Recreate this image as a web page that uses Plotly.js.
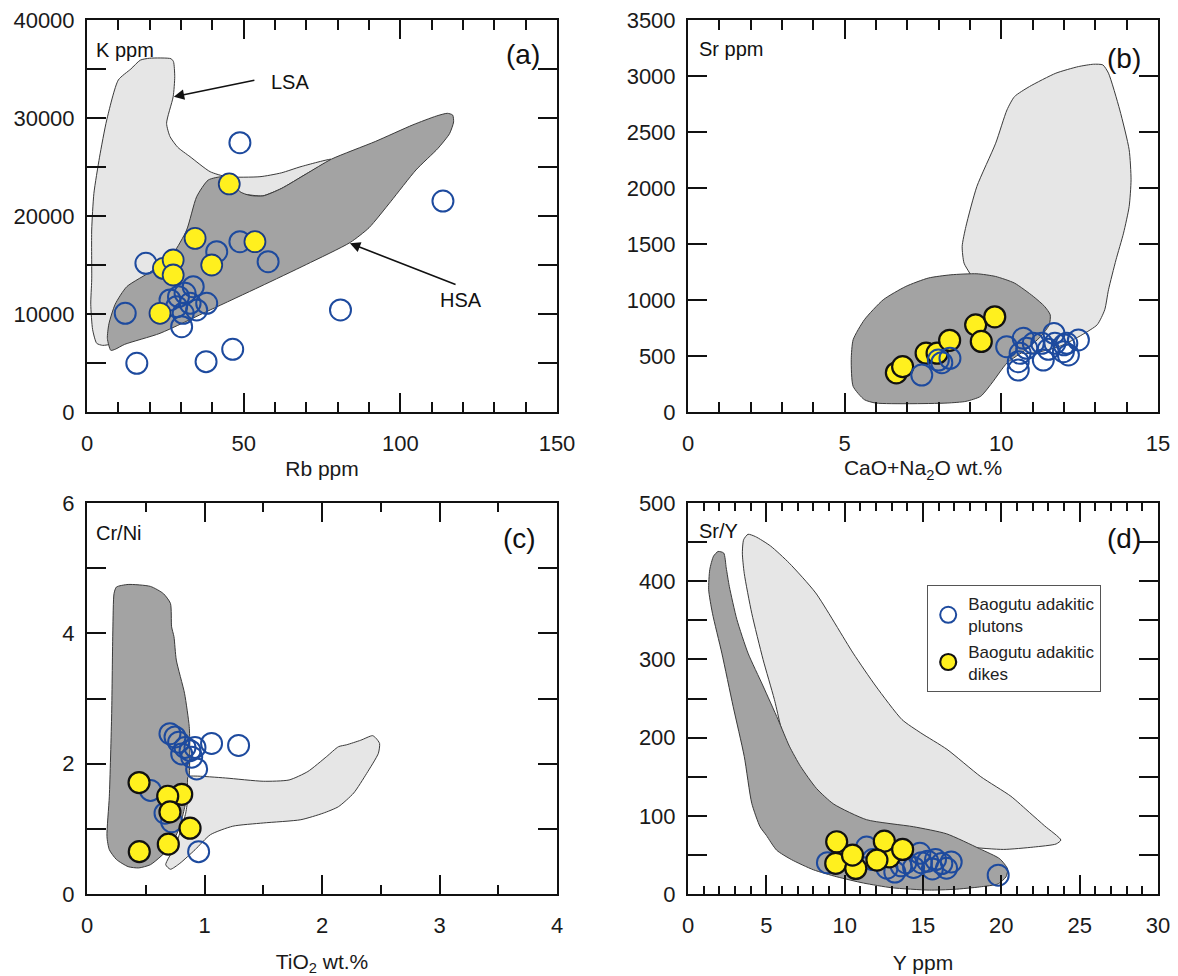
<!DOCTYPE html>
<html>
<head>
<meta charset="utf-8">
<script src="https://cdn.plot.ly/plotly-3.0.1.min.js"></script>
<style>
  html, body { margin: 0; padding: 0; background: #ffffff; }
  #chart { width: 1178px; height: 976px; }
</style>
</head>
<body>
<div id="chart"></div>
<script>
// ---------------- DATA ----------------
// Panel (a): K ppm vs Rb ppm
const aPlutonsRb = [48.8, 113.6, 18.8, 41.4, 48.8, 57.8, 12.2, 80.9, 15.9, 38.0, 46.5, 26.5, 29.2, 31.3, 33.9, 32.9, 35.0, 30.7, 28.6, 38.2, 30.2];
const aPlutonsK  = [27480, 21530, 15170, 16360, 17380, 15340, 10070, 10410, 4970, 5140, 6400, 11430, 11770, 12110, 12790, 11090, 10410, 10070, 10750, 11090, 8700];
const aDikesRb = [45.4, 34.5, 53.6, 24.4, 27.5, 27.5, 39.8, 23.3];
const aDikesK  = [23270, 17720, 17380, 14660, 15510, 13980, 15000, 10070];
const aLsaRb = [3.1, 1.8, 1.2, 1.5, 1.5, 2.2, 4.0, 6.3, 10.0, 14.0, 17.0, 20.0, 26.8, 27.6, 28.0, 27.5, 25.4, 26.5, 29.0, 32.9, 39.3, 44.6, 55.2, 62.0, 68.3, 77.9, 70.0, 62.0, 56.0, 50.0, 45.0, 38.0, 20.0, 8.0, 5.0];
const aLsaK  = [7010, 8400, 11000, 13470, 18570, 22300, 26000, 29800, 33880, 35000, 35900, 36100, 36050, 35750, 34220, 32170, 29460, 28100, 27000, 26050, 24520, 24010, 24010, 24400, 25040, 25790, 24300, 22800, 22050, 22200, 22000, 19000, 12000, 7000, 6800];
const aHsaRb = [7.6, 6.5, 7.0, 9.0, 12.7, 21.2, 27.5, 31.8, 35.0, 38.7, 43.5, 46.5, 48.8, 52.0, 56.2, 62.0, 70.0, 78.0, 92.0, 104.0, 111.5, 115.0, 116.7, 117.0, 115.7, 112.0, 105.0, 97.0, 90.0, 84.0, 70.0, 55.2, 39.3, 23.3, 12.0, 9.0];
const aHsaK  = [6290, 7500, 9000, 11000, 12790, 14490, 16190, 18570, 21970, 23670, 24010, 23500, 22480, 22100, 22050, 22800, 24300, 25800, 27600, 29300, 30200, 30480, 30300, 29600, 28400, 26900, 24700, 21500, 18800, 17300, 15050, 12790, 10410, 8030, 6900, 6400];

// Panel (b): Sr ppm vs CaO+Na2O wt.%
const bPlutonsX = [7.46, 7.99, 8.36, 8.10, 10.17, 10.54, 10.54, 10.70, 10.81, 11.02, 11.34, 11.29, 11.68, 11.71, 11.98, 12.09, 12.14, 12.46, 10.60, 11.50, 12.00];
const bPlutonsSr = [330, 464, 479, 440, 583, 449, 375, 658, 569, 613, 464, 613, 702, 613, 538, 613, 509, 643, 524, 560, 600];
const bDikesX = [6.65, 6.85, 7.60, 7.95, 8.35, 9.18, 9.36, 9.79];
const bDikesSr = [350, 405, 525, 525, 640, 778, 630, 850];
const bLsaX = [8.99, 8.81, 8.75, 8.87, 9.22, 9.82, 10.18, 10.42, 10.90, 11.74, 12.46, 12.94, 13.24, 13.42, 13.78, 14.08, 14.14, 14.08, 13.90, 13.66, 13.42, 13.30, 13.06, 12.58, 11.86, 10.66, 9.46];
const bLsaSr = [1240, 1329, 1478, 1657, 2014, 2400, 2697, 2816, 2906, 3025, 3084, 3105, 3099, 3025, 2697, 2341, 2073, 1835, 1597, 1359, 1091, 913, 779, 690, 586, 526, 1002];
const bHsaX = [9.22, 9.82, 10.42, 11.02, 11.38, 11.56, 11.53, 11.26, 10.78, 10.18, 9.70, 9.34, 8.87, 8.27, 7.07, 5.99, 5.63, 5.27, 5.21, 5.27, 5.63, 6.23, 6.95, 7.67, 8.39];
const bHsaSr = [1234, 1210, 1151, 1032, 943, 868, 779, 675, 556, 437, 259, 140, 95, 80, 74, 80, 110, 229, 467, 645, 824, 1002, 1121, 1196, 1225];

// Panel (c): Cr/Ni vs TiO2 wt.%
const cPlutonsTi = [0.706, 0.749, 0.834, 0.877, 0.919, 0.806, 0.891, 0.933, 1.06, 1.29, 0.54, 0.664, 0.72, 0.95, 0.78];
const cPlutonsCrNi = [2.46, 2.41, 2.25, 2.20, 2.25, 2.15, 2.10, 1.92, 2.31, 2.28, 1.59, 1.24, 1.11, 0.65, 2.33];
const cDikesTi = [0.443, 0.806, 0.687, 0.706, 0.877, 0.692, 0.445];
const cDikesCrNi = [1.71, 1.53, 1.50, 1.26, 1.01, 0.765, 0.65];
const cHsaTi = [0.25, 0.35, 0.54, 0.65, 0.71, 0.72, 0.74, 0.76, 0.83, 0.87, 0.875, 0.87, 0.85, 0.82, 0.78, 0.71, 0.63, 0.54, 0.44, 0.35, 0.25, 0.19, 0.17, 0.19, 0.21, 0.22, 0.23];
const cHsaCrNi = [4.71, 4.75, 4.72, 4.61, 4.46, 4.10, 3.95, 3.59, 3.08, 2.57, 2.26, 1.80, 1.50, 1.24, 0.99, 0.73, 0.58, 0.45, 0.40, 0.42, 0.53, 0.68, 0.88, 1.50, 2.77, 4.05, 4.61];
const cLsaTi = [0.67, 0.71, 0.79, 0.92, 1.05, 1.24, 1.50, 1.82, 2.01, 2.14, 2.27, 2.38, 2.48, 2.49, 2.46, 2.43, 2.33, 2.21, 2.14, 2.04, 1.88, 1.72, 1.50, 1.18, 0.92, 0.86, 0.86, 0.84, 0.80, 0.75];
const cLsaCrNi = [0.45, 0.38, 0.47, 0.68, 0.91, 1.04, 1.09, 1.14, 1.24, 1.34, 1.55, 1.85, 2.16, 2.31, 2.39, 2.43, 2.36, 2.29, 2.26, 2.11, 1.88, 1.75, 1.73, 1.78, 1.81, 1.80, 1.50, 1.24, 0.99, 0.73];

// Panel (d): Sr/Y vs Y ppm
const dPlutonsY = [8.9, 11.4, 11.8, 12.7, 13.2, 13.6, 13.9, 14.4, 14.8, 14.9, 15.3, 15.6, 15.8, 16.2, 16.5, 16.8, 19.8];
const dPlutonsSrY = [40, 60, 44, 33, 28, 36, 40, 34, 52, 40, 42, 32, 44, 39, 33, 41, 24];
const dDikesY = [9.49, 9.43, 10.71, 10.5, 12.85, 12.53, 12.06, 13.7];
const dDikesSrY = [66.8, 39.1, 32.7, 49.7, 47.6, 67.6, 43.4, 57.0];
const dHsaY = [1.92, 2.28, 2.44, 2.64, 3.12, 3.83, 4.79, 5.75, 6.47, 7.19, 8.2, 9.3, 11.4, 14.4, 16.5, 18.6, 19.9, 20.4, 20.3, 19.8, 18.6, 17.0, 15.4, 13.0, 11.2, 9.5, 8.0, 6.6, 5.66, 5.0, 4.6, 4.07, 3.59, 2.88, 2.16, 1.56, 1.32, 1.39, 1.63];
const dHsaSrY = [438, 436, 417, 393, 351, 308, 266, 223, 189, 163, 135, 115, 95, 86, 77, 58, 45, 32, 22, 13, 9, 6, 5, 8, 14, 22, 31, 44, 56, 75, 86, 116, 176, 240, 308, 359, 389, 415, 432];
const dLsaY = [3.55, 3.83, 4.31, 5.27, 6.47, 8.15, 10.54, 11.98, 13.66, 14.86, 16.53, 18.69, 20.61, 21.81, 22.77, 23.8, 23.5, 22.05, 20.13, 18.0, 15.0, 10.0, 7.19, 6.3, 5.51, 4.79, 4.07, 3.59, 3.47];
const dLsaSrY = [453, 460, 457, 445, 423, 385, 308, 266, 223, 206, 185, 150, 125, 104, 87, 69, 64, 60, 57, 60, 70, 100, 150, 185, 249, 300, 359, 410, 436];

const legendPlutons = 'Baogutu adakitic<br>plutons';
const legendDikes = 'Baogutu adakitic<br>dikes';

// ---------------- STYLE ----------------
const FONT = 'Liberation Sans, Arial, Helvetica, sans-serif';
const INK = '#111111';
const LIGHT = '#e6e6e6';
const DARK = '#a3a3a3';
const BLUE = '#1d4a9e';
const YELLOW = '#fff01e';
const W = 1178, H = 976;

function closeRing(arr) { return arr.concat([arr[0]]); }

function field(xs, ys, color, xa, ya) {
  return {
    type: 'scatter', mode: 'lines', x: closeRing(xs), y: closeRing(ys),
    fill: 'toself', fillcolor: color,
    line: { color: '#3a3a3a', width: 1, shape: 'spline', smoothing: 0.6 },
    xaxis: xa, yaxis: ya, hoverinfo: 'skip', showlegend: false
  };
}
function plutons(xs, ys, xa, ya, show) {
  return {
    type: 'scatter', mode: 'markers', x: xs, y: ys, name: legendPlutons,
    marker: { symbol: 'circle-open', size: 21, color: BLUE, line: { width: 2, color: BLUE } },
    xaxis: xa, yaxis: ya, showlegend: show, legendgroup: 'pl'
  };
}
function dikes(xs, ys, xa, ya, show, edge, ew) {
  return {
    type: 'scatter', mode: 'markers', x: xs, y: ys, name: legendDikes,
    marker: { symbol: 'circle', size: 21, color: YELLOW, line: { width: ew, color: edge } },
    xaxis: xa, yaxis: ya, showlegend: show, legendgroup: 'dk'
  };
}
// carrier traces (a single empty point, nothing drawn) so that the
// tick-only mirror axes on the top and right sides are created
function carrier(xa, ya) {
  return { type: 'scatter', mode: 'markers', x: [null], y: [null], xaxis: xa, yaxis: ya,
           marker: { size: 1, opacity: 0 }, showlegend: false, hoverinfo: 'skip' };
}

const traces = [
  field(aLsaRb, aLsaK, LIGHT, 'x', 'y'),
  field(aHsaRb, aHsaK, DARK, 'x', 'y'),
  plutons(aPlutonsRb, aPlutonsK, 'x', 'y', false),
  dikes(aDikesRb, aDikesK, 'x', 'y', false, '#1a3c86', 1.8),

  field(bLsaX, bLsaSr, LIGHT, 'x2', 'y2'),
  field(bHsaX, bHsaSr, DARK, 'x2', 'y2'),
  dikes(bDikesX, bDikesSr, 'x2', 'y2', false, INK, 2.2),
  plutons(bPlutonsX, bPlutonsSr, 'x2', 'y2', false),

  field(cHsaTi, cHsaCrNi, DARK, 'x3', 'y3'),
  field(cLsaTi, cLsaCrNi, LIGHT, 'x3', 'y3'),
  plutons(cPlutonsTi, cPlutonsCrNi, 'x3', 'y3', false),
  dikes(cDikesTi, cDikesCrNi, 'x3', 'y3', false, INK, 2.2),

  field(dLsaY, dLsaSrY, LIGHT, 'x4', 'y4'),
  field(dHsaY, dHsaSrY, DARK, 'x4', 'y4'),
  plutons(dPlutonsY, dPlutonsSrY, 'x4', 'y4', true),
  dikes(dDikesY, dDikesSrY, 'x4', 'y4', true, INK, 2.2),

  carrier('x5', 'y'), carrier('x', 'y5'),
  carrier('x6', 'y2'), carrier('x2', 'y6'),
  carrier('x7', 'y3'), carrier('x3', 'y7'),
  carrier('x8', 'y4'), carrier('x4', 'y8')
];

// pixel geometry of the four plot boxes
const colL = [87, 557], colR = [688, 1158];
const rowT = [20, 412], rowB = [503, 894];
const xd = p => [p[0] / W, p[1] / W];
const yd = p => [1 - p[1] / H, 1 - p[0] / H];

const TICKFONT = { family: FONT, size: 22, color: '#1a1a1a' };

function xaxisCfg(range, dtick, mdtick, mlen, domain, anchor, title, standoff) {
  return {
    domain: xd(domain), anchor: anchor, range: range, autorange: false,
    showline: true, linewidth: 2, linecolor: INK, mirror: 'ticks',
    ticks: 'inside', ticklen: 19, tickwidth: 2, tickcolor: INK,
    tick0: 0, dtick: dtick, tickformat: 'd', ticklabelstandoff: 11,
    minor: { dtick: mdtick, tick0: 0, ticks: 'inside', ticklen: mlen, tickwidth: 2, tickcolor: INK },
    showgrid: false, zeroline: false, fixedrange: true,
    tickfont: TICKFONT,
    title: { text: title, font: { family: FONT, size: 21, color: '#1a1a1a' }, standoff: standoff },
    automargin: false
  };
}
function yaxisCfg(range, dtick, mdtick, mlen, domain, anchor) {
  return {
    domain: yd(domain), anchor: anchor, range: range, autorange: false,
    showline: true, linewidth: 2, linecolor: INK, mirror: 'ticks',
    ticks: 'inside', ticklen: 19, tickwidth: 2, tickcolor: INK,
    tick0: 0, dtick: dtick, tickformat: 'd', ticklabelstandoff: 6,
    minor: { dtick: mdtick, tick0: 0, ticks: 'inside', ticklen: mlen, tickwidth: 2, tickcolor: INK },
    showgrid: false, zeroline: false, fixedrange: true,
    tickfont: TICKFONT,
    automargin: false
  };
}
// tick-only mirror axes on top and right carrying the minor tick marks
function topCfg(base, over, anchor) {
  return {
    overlaying: over, anchor: anchor, side: 'top', range: base.range, autorange: false,
    showline: false, showticklabels: false, showgrid: false, zeroline: false, fixedrange: true,
    ticks: 'inside', ticklen: base.minor.ticklen, tickwidth: 2, tickcolor: INK,
    tick0: 0, dtick: base.minor.dtick
  };
}
function rightCfg(base, over, anchor) {
  return {
    overlaying: over, anchor: anchor, side: 'right', range: base.range, autorange: false,
    showline: false, showticklabels: false, showgrid: false, zeroline: false, fixedrange: true,
    ticks: 'inside', ticklen: base.minor.ticklen, tickwidth: 2, tickcolor: INK,
    tick0: 0, dtick: base.minor.dtick
  };
}

function corner(text, xref, yref, x, y, anchor, size) {
  return { text: text, xref: xref, yref: yref, x: x, y: y, xanchor: anchor, yanchor: 'middle',
           showarrow: false, font: { family: FONT, size: size, color: '#111' } };
}
function arrow(xTip, yTip, xTail, yTail) {
  return { xref: 'x', yref: 'y', axref: 'x', ayref: 'y', x: xTip, y: yTip, ax: xTail, ay: yTail,
           text: '', showarrow: true, arrowhead: 2, arrowsize: 1.3, arrowwidth: 1.6,
           arrowcolor: INK, standoff: 0, startstandoff: 0 };
}

const xa1 = xaxisCfg([0, 150], 50, 10, 10, colL, 'y', 'Rb ppm', 6);
const ya1 = yaxisCfg([0, 40000], 10000, 5000, 19, rowT, 'x');
const xa2 = xaxisCfg([0, 15], 5, 1, 10, colR, 'y2', 'CaO+Na<sub>2</sub>O wt.%', 3);
const ya2 = yaxisCfg([0, 3500], 500, 500, 19, rowT, 'x2');
const xa3 = xaxisCfg([0, 4], 1, 0.5, 9, colL, 'y3', 'TiO<sub>2</sub> wt.%', 18);
const ya3 = yaxisCfg([0, 6], 2, 1, 19, rowB, 'x3');
const xa4 = xaxisCfg([0, 30], 5, 1, 8, colR, 'y4', 'Y ppm', 18);
const ya4 = yaxisCfg([0, 500], 100, 50, 19, rowB, 'x4');

const layout = {
  width: W, height: H,
  margin: { l: 0, r: 0, t: 0, b: 0 },
  paper_bgcolor: '#ffffff', plot_bgcolor: 'rgba(0,0,0,0)',
  font: { family: FONT, color: '#222' },
  showlegend: true,
  legend: {
    x: 927 / W, y: 1 - 585 / H, xanchor: 'left', yanchor: 'top',
    bgcolor: '#ffffff', bordercolor: '#555555', borderwidth: 1.2,
    font: { family: FONT, size: 17, color: '#222' },
    itemsizing: 'trace', traceorder: 'normal', tracegroupgap: 0
  },
  xaxis: xa1, yaxis: ya1, xaxis2: xa2, yaxis2: ya2,
  xaxis3: xa3, yaxis3: ya3, xaxis4: xa4, yaxis4: ya4,
  xaxis5: topCfg(xa1, 'x', 'y'), yaxis5: rightCfg(ya1, 'y', 'x'),
  xaxis6: topCfg(xa2, 'x2', 'y2'), yaxis6: rightCfg(ya2, 'y2', 'x2'),
  xaxis7: topCfg(xa3, 'x3', 'y3'), yaxis7: rightCfg(ya3, 'y3', 'x3'),
  xaxis8: topCfg(xa4, 'x4', 'y4'), yaxis8: rightCfg(ya4, 'y4', 'x4'),
  annotations: [
    corner('K ppm', 'x domain', 'y domain', 0.015, 0.923, 'left', 20),
    corner('Sr ppm', 'x2 domain', 'y2 domain', 0.019, 0.925, 'left', 20),
    corner('Cr/Ni', 'x3 domain', 'y3 domain', 0.014, 0.922, 'left', 20),
    corner('Sr/Y', 'x4 domain', 'y4 domain', 0.019, 0.928, 'left', 20),
    corner('(a)', 'x domain', 'y domain', 0.968, 0.911, 'right', 28),
    corner('(b)', 'x2 domain', 'y2 domain', 0.968, 0.903, 'right', 28),
    corner('(c)', 'x3 domain', 'y3 domain', 0.96, 0.908, 'right', 28),
    corner('(d)', 'x4 domain', 'y4 domain', 0.968, 0.910, 'right', 28),
    { text: 'LSA', xref: 'x', yref: 'y', x: 64.7, y: 33700, xanchor: 'center', yanchor: 'middle',
      showarrow: false, font: { family: FONT, size: 20, color: '#111' } },
    { text: 'HSA', xref: 'x', yref: 'y', x: 119.3, y: 11430, xanchor: 'center', yanchor: 'middle',
      showarrow: false, font: { family: FONT, size: 20, color: '#111' } },
    arrow(27.7, 32170, 53.9, 33880),
    arrow(83.9, 17210, 118.1, 12960)
  ]
};

Plotly.newPlot('chart', traces, layout, { staticPlot: true, displayModeBar: false });
</script>
</body>
</html>
